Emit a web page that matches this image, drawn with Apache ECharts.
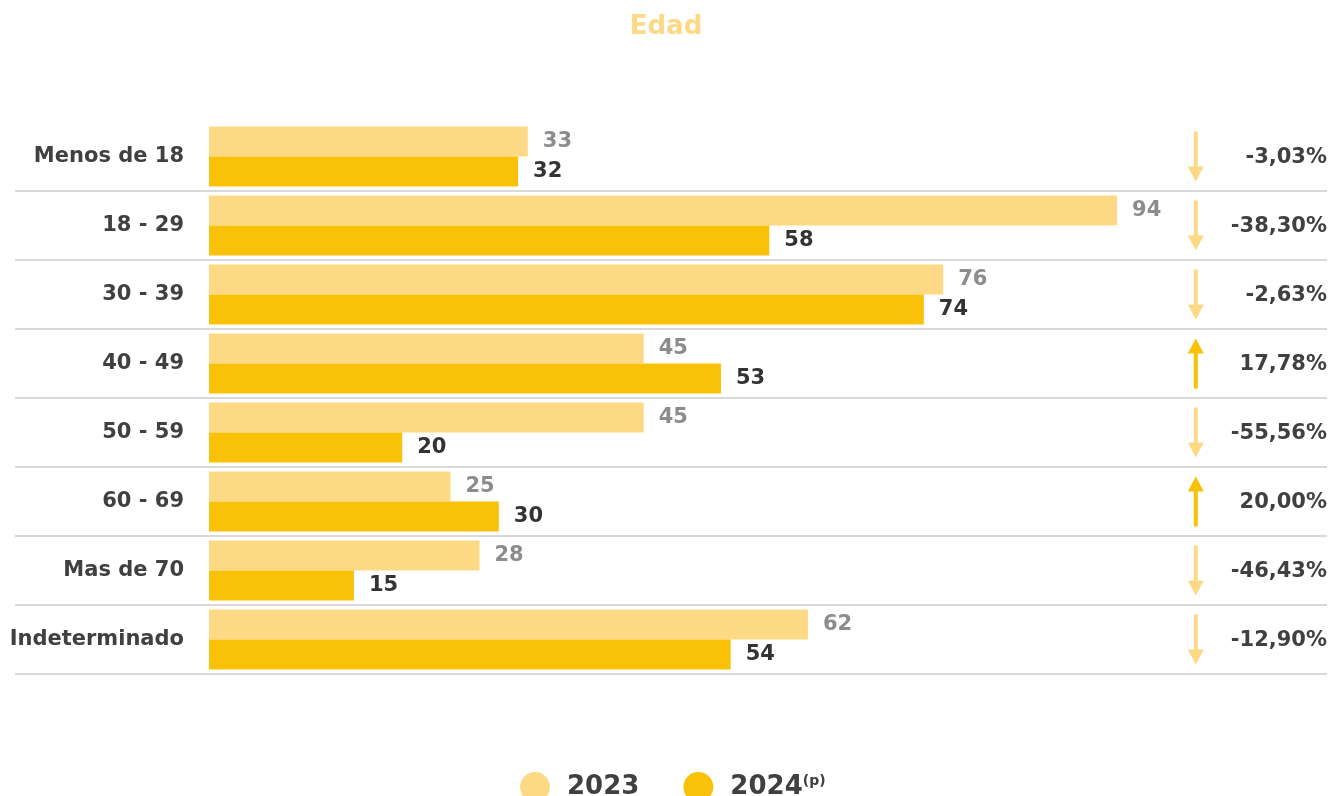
<!DOCTYPE html>
<html>
<head>
<meta charset="utf-8">
<script src="https://cdn.jsdelivr.net/npm/echarts@6/dist/echarts.min.js"></script>
<style>html,body{margin:0;padding:0;background:#fff}#c{width:1332px;height:796px}</style>
</head>
<body>
<div id="c"></div>
<script>
const categories = ['Menos de 18', '18 - 29', '30 - 39', '40 - 49', '50 - 59', '60 - 69', 'Mas de 70', 'Indeterminado'];
const values2023 = [33, 94, 76, 45, 45, 25, 28, 62];
const values2024 = [32, 58, 74, 53, 20, 30, 15, 54];
const seriesNames = ['2023', '2024'];

const LIGHT = '#FDD985';
const DARK = '#F9C107';
const TEXT = '#404040';
const FONT = '"DejaVu Sans", sans-serif';

const change = values2023.map((v, i) => (values2024[i] - v) / v * 100);
const pctLabel = change.map(c => c.toFixed(2).replace('.', ',') + '%');

const arrowPath = 'path://M6,0 L10,0 L10,35 L16,35 L8,50 L0,35 L6,35 Z';

const chart = echarts.init(document.getElementById('c'), null, {renderer: 'canvas'});
chart.setOption({
  animation: false,
  backgroundColor: '#fff',
  title: {
    text: 'Edad', left: 'center', top: 9,
    textStyle: {color: LIGHT, fontSize: 26, fontWeight: 'bold', fontFamily: FONT}
  },
  legend: {
    data: seriesNames, left: 515, top: 767, icon: 'circle',
    itemWidth: 30, itemHeight: 30, itemGap: 44, selectedMode: false,
    formatter: n => n === '2024' ? '2024{sup|(p)}' : n,
    textStyle: {
      color: TEXT, fontSize: 26, fontWeight: 'bold', fontFamily: FONT, padding: [0, 0, 0, 12],
      rich: {sup: {fontSize: 14, color: TEXT, verticalAlign: 'top', padding: [0, 0, 12, 0], fontFamily: FONT}}
    }
  },
  grid: [
    {left: 209, width: 966, top: 122, height: 552},
    {left: 15, right: 5, top: 122, height: 552}
  ],
  xAxis: [
    {gridIndex: 0, type: 'value', min: 0, max: 100, show: false},
    {gridIndex: 1, type: 'value', min: 0, max: 1, show: false}
  ],
  yAxis: [
    {
      gridIndex: 0, type: 'category', data: categories, inverse: true,
      axisLine: {show: false}, axisTick: {show: false}, splitLine: {show: false},
      axisLabel: {color: TEXT, fontSize: 21, fontWeight: 'bold', fontFamily: FONT, margin: 25}
    },
    {
      gridIndex: 1, type: 'category', data: categories, inverse: true,
      axisLine: {show: false}, axisTick: {show: false}, axisLabel: {show: false},
      splitLine: {show: true, lineStyle: {color: ['rgba(0,0,0,0)', '#d9d9d9', '#d9d9d9', '#d9d9d9', '#d9d9d9', '#d9d9d9', '#d9d9d9', '#d9d9d9', '#d9d9d9'], width: 2}}
    }
  ],
  series: [
    {
      name: '2023', type: 'bar', xAxisIndex: 0, yAxisIndex: 0, data: values2023,
      barGap: '0%', barCategoryGap: '13%', itemStyle: {color: LIGHT},
      label: {show: true, position: 'right', distance: 15, color: '#8C8C8C', fontSize: 21, fontWeight: 'bold', fontFamily: FONT}
    },
    {
      name: '2024', type: 'bar', xAxisIndex: 0, yAxisIndex: 0, data: values2024,
      barGap: '0%', barCategoryGap: '13%', itemStyle: {color: DARK},
      label: {show: true, position: 'right', distance: 15, color: '#333', fontSize: 21, fontWeight: 'bold', fontFamily: FONT}
    },
    {
      type: 'scatter', xAxisIndex: 1, yAxisIndex: 1, silent: true,
      data: change.map((c, i) => ({
        value: [0.9, categories[i]],
        symbolRotate: c >= 0 ? 180 : 0,
        itemStyle: {color: c >= 0 ? DARK : LIGHT, opacity: 1}
      })),
      symbol: arrowPath, symbolSize: [16, 50], itemStyle: {opacity: 1}
    },
    {
      type: 'scatter', xAxisIndex: 1, yAxisIndex: 1, silent: true,
      data: pctLabel.map((p, i) => ({value: [1, categories[i]], label: {formatter: p}})),
      symbolSize: 0, itemStyle: {opacity: 1},
      label: {show: true, position: 'left', distance: 0, offset: [0, 1], color: TEXT, opacity: 1, fontSize: 21, fontWeight: 'bold', fontFamily: FONT}
    }
  ]
});
</script>
</body>
</html>
